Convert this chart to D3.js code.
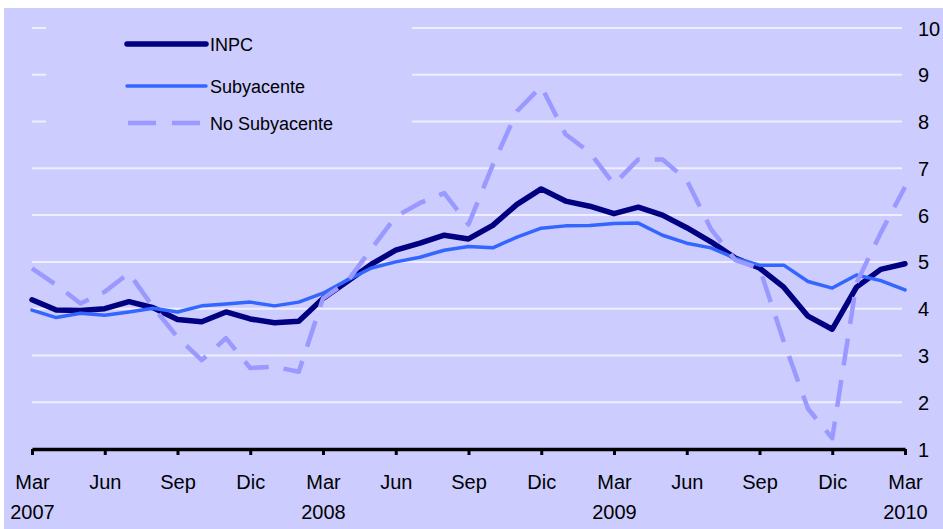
<!DOCTYPE html>
<html>
<head>
<meta charset="utf-8">
<script src="https://cdn.jsdelivr.net/npm/d3@7"></script>
<style>
  html, body { margin: 0; padding: 0; background: #ffffff; }
  svg { display: block; font-family: "Liberation Sans", Arial, sans-serif; }
</style>
</head>
<body>
<svg id="chart" width="943" height="529"></svg>
<script>
// ---- data ----
const months = ["Mar","Abr","May","Jun","Jul","Ago","Sep","Oct","Nov","Dic","Ene","Feb",
                "Mar","Abr","May","Jun","Jul","Ago","Sep","Oct","Nov","Dic","Ene","Feb",
                "Mar","Abr","May","Jun","Jul","Ago","Sep","Oct","Nov","Dic","Ene","Feb","Mar"];
const yearLabels = {0: "2007", 12: "2008", 24: "2009", 36: "2010"};
const xTickIdx = [0,3,6,9,12,15,18,21,24,27,30,33,36];
const yTicks = [1,2,3,4,5,6,7,8,9,10];

const inpc = [4.19,3.97,3.96,4.00,4.15,4.02,3.77,3.72,3.93,3.78,3.70,3.73,
              4.22,4.58,4.95,5.25,5.40,5.57,5.49,5.78,6.23,6.56,6.30,6.19,
              6.03,6.17,6.00,5.73,5.43,5.08,4.87,4.46,3.84,3.56,4.46,4.84,4.96];
const subyacente = [3.97,3.81,3.90,3.86,3.93,4.01,3.93,4.06,4.10,4.14,4.06,4.14,
                    4.33,4.61,4.87,5.00,5.10,5.25,5.33,5.30,5.53,5.72,5.77,5.78,
                    5.82,5.83,5.57,5.40,5.30,5.08,4.93,4.93,4.58,4.44,4.72,4.60,4.40];
const noSubyacente = [4.86,4.51,4.11,4.36,4.76,4.03,3.39,2.90,3.37,2.73,2.76,2.65,
                      4.22,4.58,5.28,5.97,6.26,6.47,5.80,7.07,8.22,8.75,7.73,7.34,
                      6.66,7.19,7.19,6.75,5.70,5.04,4.87,3.30,1.86,1.23,4.55,5.62,6.60];

const seriesNames = ["INPC","Subyacente","No Subyacente"];

// ---- chart ----
const svg = d3.select("#chart");
const bg = "#CCCCFF";
svg.append("rect").attr("x",4).attr("y",8).attr("width",939).attr("height",521).attr("fill",bg);

const x = d3.scaleLinear().domain([0, 36]).range([32, 905]);
const y = d3.scaleLinear().domain([1, 10]).range([449, 28]);

// gridlines
svg.append("g").selectAll("line").data(yTicks.filter(v => v > 1)).join("line")
  .attr("x1", x(0)).attr("x2", 902)
  .attr("y1", d => y(d)).attr("y2", d => y(d))
  .attr("stroke", "#EEEEFF").attr("stroke-width", 2);

// legend backdrop (hides gridlines behind legend)
svg.append("rect").attr("x",46).attr("y",14).attr("width",366).attr("height",134).attr("fill",bg);

// right axis labels
const yAxis = svg.append("g").attr("transform", `translate(${x(36)},0)`)
  .call(d3.axisRight(y).tickValues(yTicks).tickSize(0).tickPadding(13).tickFormat(d3.format("d")));
yAxis.select(".domain").remove();
yAxis.selectAll("text").attr("font-size", 20).attr("fill", "#000")
  .attr("font-family", "Liberation Sans, Arial, sans-serif").attr("dy", "0.35em");

// bottom axis
const xAxis = svg.append("g").attr("transform", `translate(0,${y(1)})`)
  .call(d3.axisBottom(x).tickValues(xTickIdx).tickSize(6).tickSizeOuter(0).tickFormat(i => months[i]));
xAxis.select(".domain").attr("stroke", "#000").attr("stroke-width", 3.5);
xAxis.selectAll(".tick line").attr("stroke", "#000").attr("stroke-width", 3);
xAxis.selectAll(".tick text").attr("y", 40).attr("dy", null).attr("font-size", 20).attr("fill", "#000")
  .attr("font-family", "Liberation Sans, Arial, sans-serif");
xAxis.selectAll(".tick").filter(i => yearLabels[i] !== undefined).append("text")
  .attr("y", 70).attr("fill", "#000").attr("font-size", 20).attr("text-anchor", "middle")
  .attr("font-family", "Liberation Sans, Arial, sans-serif")
  .text(i => yearLabels[i]);

// lines
const line = d3.line().x((d, i) => x(i)).y(d => y(d));
const styles = [
  {data: inpc, color: "#000080", width: 5.5, dash: null},
  {data: subyacente, color: "#3366FF", width: 3.5, dash: null},
  {data: noSubyacente, color: "#9999FF", width: 4.5, dash: "27,15"}
];
styles.forEach(s => {
  svg.append("path").datum(s.data).attr("d", line)
    .attr("fill", "none").attr("stroke", s.color).attr("stroke-width", s.width)
    .attr("stroke-linejoin", "round").attr("stroke-linecap", s.dash ? "butt" : "round")
    .attr("stroke-dasharray", s.dash);
});

// legend
const legY = [44, 86, 123];
const lg = svg.append("g");
styles.forEach((s, k) => {
  lg.append("line").attr("x1", s.dash ? 128 : 127).attr("x2", s.dash ? 200 : 206)
    .attr("y1", legY[k]).attr("y2", legY[k])
    .attr("stroke", s.color).attr("stroke-width", s.width)
    .attr("stroke-linecap", s.dash ? "butt" : "round")
    .attr("stroke-dasharray", s.dash ? "28,16" : null);
  lg.append("text").attr("x", 210).attr("y", legY[k] + 7)
    .attr("font-size", 18).attr("fill", "#000").text(seriesNames[k]);
});
</script>
</body>
</html>
